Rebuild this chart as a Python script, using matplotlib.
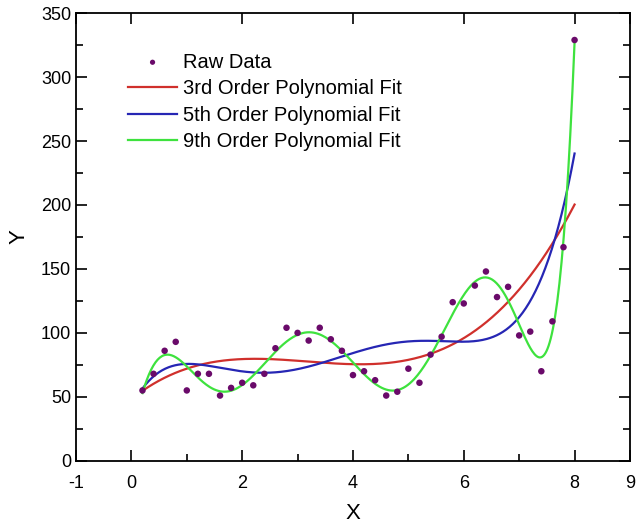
import numpy as np
import matplotlib.pyplot as plt
from numpy.polynomial import Polynomial

plt.rcParams['font.family'] = ['Liberation Sans', 'DejaVu Sans']
plt.rcParams['axes.unicode_minus'] = False

# raw data
x_raw = [0.2, 0.4, 0.6, 0.8, 1.0, 1.2, 1.4, 1.6, 1.8, 2.0,
         2.2, 2.4, 2.6, 2.8, 3.0, 3.2, 3.4, 3.6, 3.8, 4.0,
         4.2, 4.4, 4.6, 4.8, 5.0, 5.2, 5.4, 5.6, 5.8, 6.0,
         6.2, 6.4, 6.6, 6.8, 7.0, 7.2, 7.4, 7.6, 7.8, 8.0]
y_raw = [55, 68, 86, 93, 55, 68, 68, 51, 57, 61,
         59, 68, 88, 104, 100, 94, 104, 95, 86, 67,
         70, 63, 51, 54, 72, 61, 83, 97, 124, 123,
         137, 148, 128, 136, 98, 101, 70, 109, 167, 329]

fit_orders = [3, 5, 9]
fit_labels = ['3rd Order Polynomial Fit', '5th Order Polynomial Fit', '9th Order Polynomial Fit']
fit_colors = ['#d0302c', '#2626b4', '#3ee23e']

fig = plt.figure(figsize=(6.36, 5.26), dpi=100)
ax = fig.add_axes([0.1195, 0.124, 0.871, 0.851])

ax.scatter(x_raw, y_raw, s=22, color='#6a0a6a', zorder=3, label='Raw Data', edgecolors='none')

xs = np.linspace(min(x_raw), max(x_raw), 400)
for order, lab, col in zip(fit_orders, fit_labels, fit_colors):
    p = Polynomial.fit(x_raw, y_raw, order)
    ax.plot(xs, p(xs), color=col, lw=1.6, label=lab, zorder=2)

ax.set_xlim(-1, 9)
ax.set_ylim(0, 350)
ax.set_xticks([-1, 0, 2, 4, 6, 8, 9])
ax.set_xticks([1, 3, 5, 7], minor=True)
ax.set_yticks(range(0, 351, 50))
ax.set_yticks(range(25, 351, 50), minor=True)
ax.tick_params(which='both', direction='in', top=True, right=True, labelsize=13, width=1.2)
ax.tick_params(which='major', length=8)
ax.tick_params(which='minor', length=5)
ax.tick_params(axis='x', which='minor', top=False)
ax.tick_params(axis='x', which='major', pad=10)
for s in ax.spines.values():
    s.set_linewidth(1.3)

ax.set_xlabel('X', fontsize=16, labelpad=8)
ax.set_ylabel('Y', fontsize=16, labelpad=8)

ax.legend(loc='upper left', bbox_to_anchor=(0.08, 0.93), frameon=False, fontsize=14.5,
          handlelength=2.4, handletextpad=0.3, labelspacing=0.38, borderaxespad=0,
          markerscale=0.8)

fig.savefig('out.png', dpi=100)
